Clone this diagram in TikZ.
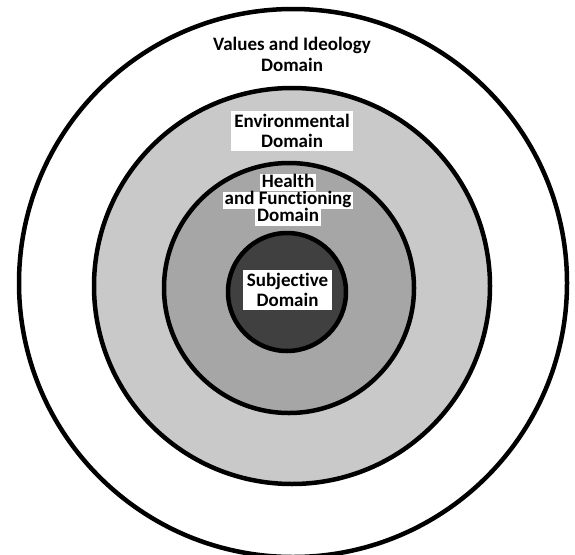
\documentclass[tikz,border=0pt]{standalone}
\usepackage{fontspec}
\setmainfont[Ligatures={NoCommon,NoRare}]{Carlito}
\usetikzlibrary{positioning}

\begin{document}
\begin{tikzpicture}[x=1pt,y=-1pt,
    ring/.style = {circle,draw,line width=4.5pt,inner sep=0pt},
    tag/.style = {fill=white,inner xsep=3pt,inner ysep=3pt,align=center,font=\bfseries\fontsize{19}{20.5}\selectfont},
    strip/.style = {fill=white,inner xsep=2pt,inner ysep=0pt,text height=13pt,text depth=4pt,font=\bfseries\fontsize{19}{17}\selectfont}]
    \useasboundingbox (0,0) rectangle (575,554);
        \node[ring,fill=white,minimum size=548pt] (values) at (293,283) {};
        \node[ring,fill=black!21,minimum size=396pt] (env) at (292,286) {};
        \node[ring,fill=black!35,minimum size=250pt] (health) at (289,288) {};
        \node[ring,fill=black!75,minimum size=118pt] (subj) at (287,292) {};

        \node[tag,fill=none,font=\bfseries\fontsize{19}{21}\selectfont] (valuesl) at (292,54) {Values and Ideology\\Domain};
        \node[tag] (envl) at (292,131) {Environmental\\Domain};
        \node[strip] (health2) at (288,200) {and Functioning};
        \node[strip] (health1) [above=0pt of health2] {Health};
        \node[strip] (health3) [below=0pt of health2] {Domain};
        \node[tag,inner xsep=4pt] (subjl) at (287.5,290) {Subjective\\Domain};
\end{tikzpicture}
\end{document}
